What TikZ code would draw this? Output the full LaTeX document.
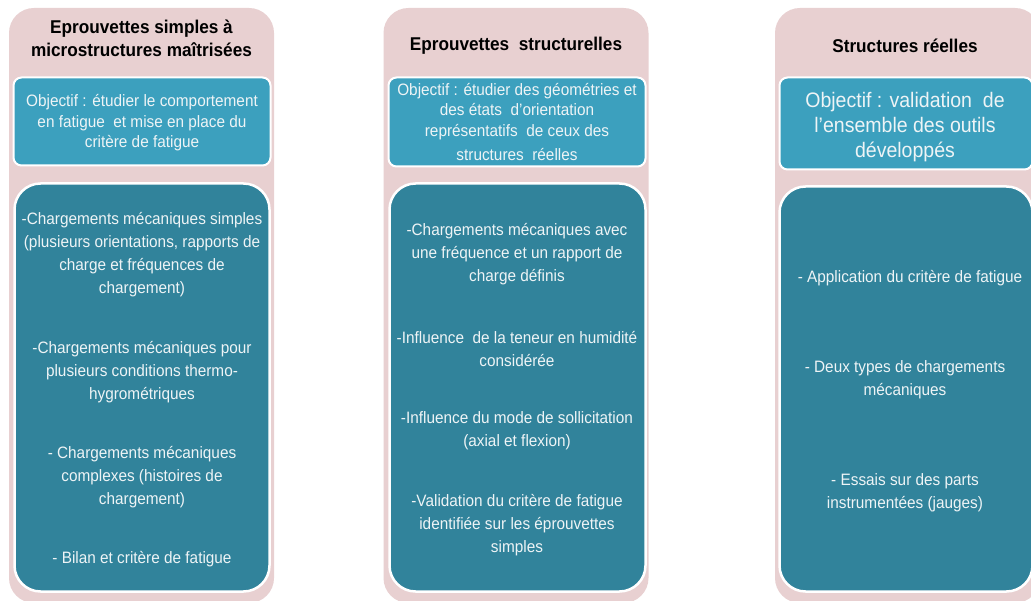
\documentclass[tikz,border=0pt]{standalone}
\usepackage{fontspec}
\setmainfont{Liberation Sans}[FakeStretch=0.93]
\definecolor{pinkc}{HTML}{E8D0D1}
\definecolor{objc}{HTML}{3CA0BE}
\definecolor{lowc}{HTML}{31839B}
\definecolor{txtc}{HTML}{EEF4F6}
\begin{document}
\begin{tikzpicture}[x=1pt,y=-1pt,
  pinkbox/.style={fill=pinkc, draw=none, rounded corners=25pt, minimum width=265pt, minimum height=595pt, inner sep=0pt},
  objbox/.style={fill=objc, draw=white, line width=2pt, rounded corners=8pt, inner sep=0pt},
  lowbox/.style={fill=lowc, draw=white, line width=2.5pt, rounded corners=26pt, inner sep=0pt},
  title/.style={font=\bfseries\fontsize{18.5}{23}\selectfont, align=center, text=black, inner sep=0pt},
  body/.style={font=\fontsize{16.5}{23}\selectfont, align=center, text=txtc, inner sep=0pt},
  objtext/.style={font=\fontsize{16.5}{20.5}\selectfont, align=center, text=txtc, inner sep=0pt}]
\clip (0,0) rectangle (1031,601);
\useasboundingbox (0,0) rectangle (1031,601);
\fill[white] (0,0) rectangle (1031,601);
% pink columns
\node[pinkbox] (p1) at (141.5,305.5) {};
\node[pinkbox] (p2) at (516,305.5) {};
\node[pinkbox] (p3) at (907.5,305.5) {};
% objective boxes
\node[objbox, minimum width=257pt, minimum height=88pt] (o1) at (142,121.5) {};
\node[objbox, minimum width=257pt, minimum height=89pt] (o2) at (517,122) {};
\node[objbox, minimum width=253pt, minimum height=92pt] (o3) at (906,123.5) {};
% lower boxes
\node[lowbox, minimum width=255pt, minimum height=408pt] (l1) at (142,387.5) {};
\node[lowbox, minimum width=256pt, minimum height=408pt] (l2) at (517.5,387.5) {};
\node[lowbox, minimum width=253pt, minimum height=405pt] (l3) at (906,389) {};
% titles
\node[title] (t1) at (141.5,38) {Eprouvettes simples à\\microstructures maîtrisées};
\node[title] (t2) at (516,46) {Eprouvettes~ structurelles};
\node[title] (t3) at (905,46) {Structures réelles};
% objective texts
\node[objtext] (ot1) at (142,123) {Objectif : étudier le comportement\\en fatigue~ et mise en place du\\critère de fatigue};
\node[objtext] (ot2) at (517,122) {Objectif : étudier des géométries et\\des états~ d’orientation\\représentatifs~ de ceux des\\[3.5pt]structures~ réelles};
\node[objtext, font=\fontsize{21}{25}\selectfont] (ot3) at (905,127) {Objectif : validation~ de\\l’ensemble des outils\\développés};
% column 1 items
\node[body] (a1) at (142,254.5) {-Chargements mécaniques simples\\(plusieurs orientations, rapports de\\charge et fréquences de\\chargement)};
\node[body] (a2) at (142,372) {-Chargements mécaniques pour\\plusieurs conditions thermo-\\hygrométriques};
\node[body] (a3) at (142,477.5) {- Chargements mécaniques\\complexes (histoires de\\chargement)};
\node[body] (a4) at (142,559) {- Bilan et critère de fatigue};
% column 2 items
\node[body] (b1) at (517,254.5) {-Chargements mécaniques avec\\une fréquence et un rapport de\\charge définis};
\node[body] (b2) at (517,349) {-Influence~ de la teneur en humidité\\considérée};
\node[body] (b3) at (517,430.5) {-Influence du mode de sollicitation\\(axial et flexion)};
\node[body] (b4) at (517,525) {-Validation du critère de fatigue\\identifiée sur les éprouvettes\\simples};
% column 3 items
\node[body] (c1) at (910,278) {- Application du critère de fatigue};
\node[body] (c2) at (905,380) {- Deux types de chargements\\mécaniques};
\node[body] (c3) at (905,493) {- Essais sur des parts\\instrumentées (jauges)};
\end{tikzpicture}
\end{document}
